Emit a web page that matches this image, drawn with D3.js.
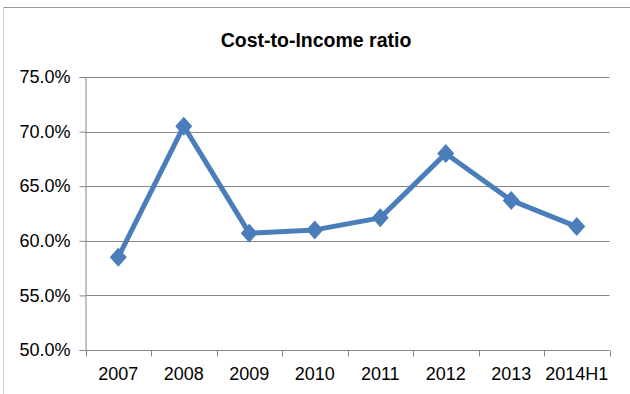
<!DOCTYPE html>
<html><head><meta charset="utf-8">
<script src="https://cdn.jsdelivr.net/npm/d3@7"></script>
<style>body{margin:0;background:#fff}svg{display:block}text{font-family:"Liberation Sans",Arial,sans-serif}</style>
</head><body>
<script>
const categories = ["2007","2008","2009","2010","2011","2012","2013","2014H1"];
const values = [58.5, 70.5, 60.7, 61.0, 62.1, 68.0, 63.7, 61.3];
const yTicks = [50, 55, 60, 65, 70, 75];
const title = "Cost-to-Income ratio";

const W = 630, H = 394;
const svg = d3.select("body").append("svg").attr("width", W).attr("height", H);
svg.append("rect").attr("width", W).attr("height", H).attr("fill", "#fff");
// chart border
svg.append("line").attr("x1", 3.5).attr("x2", W).attr("y1", 7.5).attr("y2", 7.5).attr("stroke", "#9a9a9a");
svg.append("line").attr("x1", 3.5).attr("x2", 3.5).attr("y1", 7.5).attr("y2", H).attr("stroke", "#d0d0d0");

const m = {l: 85.5, r: 609.5, t: 77, b: 350};
const x = d3.scaleBand().domain(categories).range([m.l, m.r]);
const y = d3.scaleLinear().domain([50, 75]).range([m.b, m.t]);

svg.append("text").attr("x", 316).attr("y", 47).attr("text-anchor", "middle")
  .attr("font-weight", "bold").attr("font-size", 19.5).attr("fill", "#000").text(title);

// gridlines
svg.append("g").selectAll("line").data(yTicks.filter(d => d > 50)).join("line")
  .attr("x1", m.l).attr("x2", m.r)
  .attr("y1", d => Math.round(y(d)) + 0.5).attr("y2", d => Math.round(y(d)) + 0.5)
  .attr("stroke", "#868686");

// y axis
const yAxis = svg.append("g").attr("transform", `translate(${m.l},0)`)
  .call(d3.axisLeft(y).tickValues(yTicks).tickSize(6).tickPadding(9).tickFormat(d => d.toFixed(1) + "%"));
yAxis.select(".domain").attr("stroke", "#868686");
yAxis.selectAll(".tick line").attr("stroke", "#868686");
yAxis.selectAll(".tick text").attr("font-size", 18).attr("fill", "#000").attr("font-family", '"Liberation Sans",Arial,sans-serif');

// x axis
const xAxisG = svg.append("g").attr("transform", `translate(0,${m.b + 0.5})`);
xAxisG.append("line").attr("x1", m.l).attr("x2", m.r).attr("stroke", "#868686");
const bounds = d3.range(categories.length + 1).map(i => m.l + i * x.step());
xAxisG.selectAll("line.t").data(bounds).join("line").attr("class", "t")
  .attr("x1", d => Math.round(d) + 0.5).attr("x2", d => Math.round(d) + 0.5).attr("y1", 0).attr("y2", 6)
  .attr("stroke", "#868686");
xAxisG.selectAll("text").data(categories).join("text")
  .attr("x", d => x(d) + x.bandwidth() / 2).attr("y", 29)
  .attr("text-anchor", "middle").attr("font-size", 18).attr("fill", "#000").text(d => d);

// line
const cx = d => x(d) + x.bandwidth() / 2;
const line = d3.line().x((d, i) => cx(categories[i])).y(d => y(d));
svg.append("path").datum(values).attr("d", line).attr("fill", "none")
  .attr("stroke", "#4a7ebb").attr("stroke-width", 5).attr("stroke-linejoin", "round");

svg.append("g").selectAll("path").data(values).join("path")
  .attr("transform", (d, i) => `translate(${cx(categories[i])},${y(d)})`)
  .attr("d", "M0,-9.5L8.5,0L0,9.5L-8.5,0Z").attr("fill", "#4a7ebb");
</script>
</body></html>
